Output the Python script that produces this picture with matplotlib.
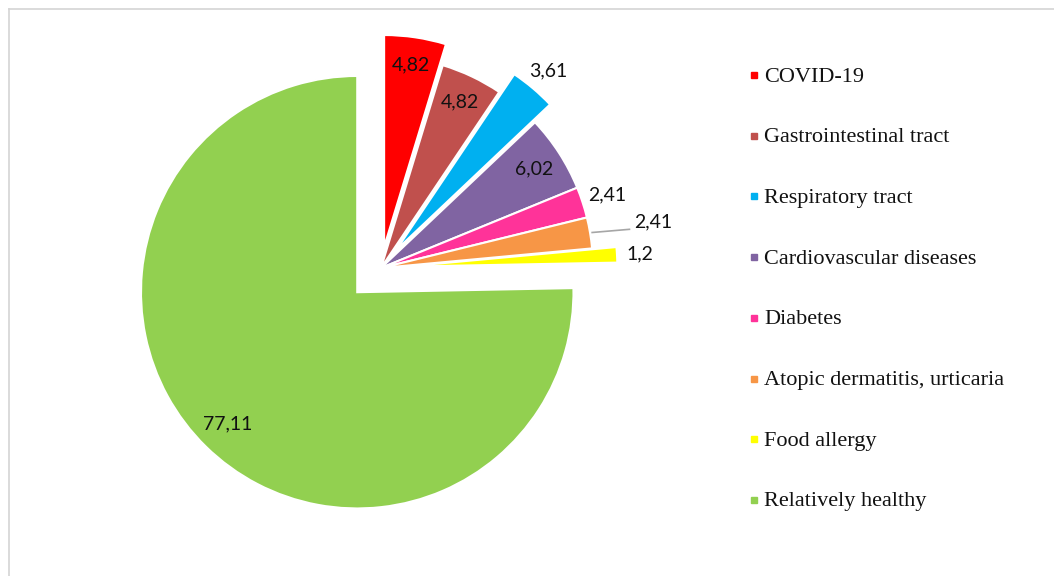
import numpy as np
import matplotlib.pyplot as plt
from matplotlib.lines import Line2D

# data (values sum to 102.4, pie normalises them)
categories = ['COVID-19', 'Gastrointestinal tract', 'Respiratory tract',
              'Cardiovascular diseases', 'Diabetes', 'Atopic dermatitis, urticaria',
              'Food allergy', 'Relatively healthy']
values = [4.82, 4.82, 3.61, 6.02, 2.41, 2.41, 1.2, 77.11]
colors = ['#FF0000', '#C0504D', '#00B0F0', '#8064A2', '#FF3399', '#F79646', '#FFFF00', '#92D050']

# styling
explode = [0.10, 0, 0.11, 0, 0, 0, 0.115, 0.16]
label_dist = [0.87, 0.87, 1.11, 0.86, 1.12, 1.30, 1.11, 0.87]

W, H = 1054, 576
R = 212.0            # pie radius in pixels
cx, cy = 381, 268    # pie centre in pixels (from top-left)

fig = plt.figure(figsize=(W / 100, H / 100), dpi=100)
ax = fig.add_axes([0, 0, 1, 1])

wedges, _ = ax.pie(values, colors=colors, explode=explode, startangle=90,
                   counterclock=False,
                   wedgeprops=dict(edgecolor='white', linewidth=1.5))
wedges[-1].set_radius(1.02)

ax.set_xlim(-cx / R, (W - cx) / R)
ax.set_ylim(-(H - cy) / R, cy / R)
ax.set_aspect('equal')
ax.axis('off')

# data labels
for w, v, d in zip(wedges, values, label_dist):
    th = np.deg2rad((w.theta1 + w.theta2) / 2)
    x = w.center[0] + d * np.cos(th)
    y = w.center[1] + d * np.sin(th)
    lab = f"{v:g}".replace('.', ',')
    ax.text(x, y, lab, ha='center', va='center', fontsize=14, family='Lato', color='#111111')
    if d > 1.2:
        sx = w.center[0] + 1.01 * np.cos(th)
        sy = w.center[1] + 1.01 * np.sin(th)
        ax.plot([sx, x - 0.11], [sy, sy + 0.015], color='#a6a6a6', lw=1.2)

# legend, drawn by hand to match spacing
for i, (name, c) in enumerate(zip(categories, colors)):
    ypx = 75 + i * 60.7
    yf = 1 - ypx / H
    fig.add_artist(Line2D([754 / W], [yf], marker='s', ms=5, color=c, lw=0,
                          transform=fig.transFigure))
    fig.text(764 / W, 1 - (ypx + 2) / H, name, ha='left', va='center', fontsize=16,
             family='Liberation Serif', color='#111111')

# chart area border (only top and left visible in the crop)
fig.add_artist(Line2D([9 / W, 1], [1 - 9 / H, 1 - 9 / H], color='#d4d4d4', lw=1.2,
                      transform=fig.transFigure))
fig.add_artist(Line2D([9 / W, 9 / W], [1 - 9 / H, 0], color='#d4d4d4', lw=1.2,
                      transform=fig.transFigure))

fig.savefig('out.png', dpi=100)
